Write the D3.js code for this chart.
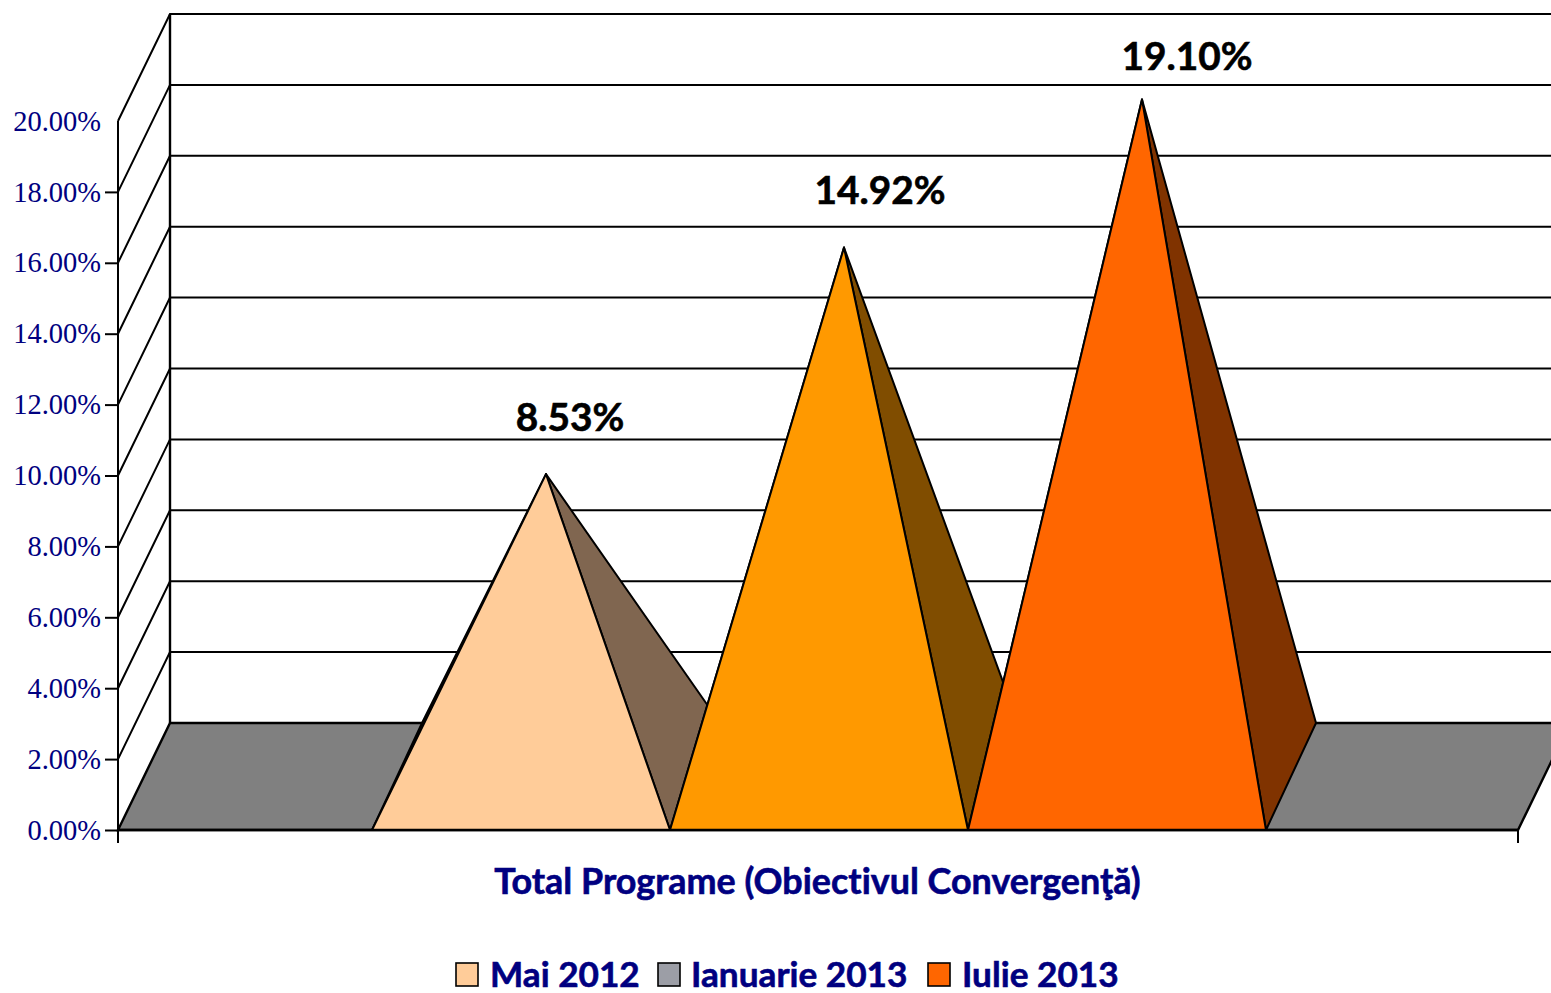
<!DOCTYPE html>
<html><head><meta charset="utf-8">
<script src="https://cdn.jsdelivr.net/npm/d3@7/dist/d3.min.js"></script>
<style>html,body{margin:0;padding:0;background:#fff;overflow:hidden}svg{display:block}
text{font-variant-ligatures:none}</style>
</head><body><svg id="c" width="1551" height="993"></svg>
<script>
const seriesNames = ["Mai 2012", "Ianuarie 2013", "Iulie 2013"];
const seriesValues = [8.53, 14.92, 19.10];
const faceColors = ["#FFCC99", "#FF9900", "#FF6600"];
const sideColors = ["#806650", "#804D00", "#803300"];
const legendColors = ["#FFCC99", "#9C9EA6", "#FF6600"];
const valueLabels = ["8.53%", "14.92%", "19.10%"];
const tickValues = [0, 2, 4, 6, 8, 10, 12, 14, 16, 18, 20];
const categoryLabel = "Total Programe (Obiectivul Convergenţă)";

const navy = "#000080", sans = "Lato, 'Open Sans', sans-serif";
const svg = d3.select("#c");
const y = d3.scaleLinear().domain([0, 20]).range([830, 121]);
const x = d3.scaleBand().domain(seriesNames).range([372, 1266]).padding(0);
const left = 118, right = 1518, wallDx = 52, depthDy = 107, pyrDx = 50;
const line = (pts, sw = 2) => svg.append("polyline").attr("points", pts.join(" "))
  .attr("fill", "none").attr("stroke", "#000").attr("stroke-width", sw);

// back wall and side wall grid
tickValues.forEach(t => {
  if (t > 0) line([[left, y(t)], [left + wallDx, y(t) - depthDy], [1560, y(t) - depthDy]]);
});
// floor
svg.append("polygon")
  .attr("points", [[left, y(0)], [right, y(0)], [right + wallDx, y(0) - depthDy], [left + wallDx, y(0) - depthDy]].join(" "))
  .attr("fill", "#808080").attr("stroke", "#000").attr("stroke-width", 2.4);
line([[left + wallDx, y(0) - depthDy], [left + wallDx, y(20) - depthDy]], 2.4);

// axes
const axis = svg.append("g").attr("transform", `translate(${left},0)`)
  .call(d3.axisLeft(y).tickValues(tickValues).tickSize(13).tickPadding(4).tickFormat(d => d.toFixed(2) + "%"));
axis.select(".domain").remove();
axis.selectAll("line").attr("stroke", "#000").attr("stroke-width", 2);
axis.selectAll(".tick").filter(d => d === 20).select("line").remove();
axis.selectAll("text").attr("fill", navy).attr("font-family", "'Liberation Serif', serif")
  .attr("font-size", 28.5);
line([[left, y(20)], [left, 843]], 2);
line([[right, y(0)], [right, 843]], 2);

// pyramids, drawn back to front
const labelDx = [25, 37, 46], labelDy = [-43, -44, -29];
seriesNames.forEach((s, i) => {
  const x0 = x(s), x1 = x0 + x.bandwidth(), b = y(0), backY = b - depthDy;
  const apex = [(x0 + x1) / 2 + pyrDx / 2, y(seriesValues[i]) - depthDy / 2];
  const g = svg.append("g").attr("stroke", "#000").attr("stroke-width", 2).attr("stroke-linejoin", "round");
  g.append("polygon").attr("points", [[x0, b], [x0 + pyrDx, backY], apex].join(" ")).attr("fill", sideColors[i]);
  g.append("polygon").attr("points", [[x1, b], [x1 + pyrDx, backY], apex].join(" ")).attr("fill", sideColors[i]);
  g.append("polygon").attr("points", [[x0, b], [x1, b], apex].join(" ")).attr("fill", faceColors[i]);
  svg.append("text").attr("x", apex[0] + labelDx[i] - 1).attr("y", apex[1] + labelDy[i])
    .attr("text-anchor", "middle").attr("font-family", sans).attr("font-weight", 700)
    .attr("font-size", 38.8).attr("fill", "#000").attr("stroke", "#000").attr("stroke-width", 0.6).text(valueLabels[i]);
});
line([[left, y(0)], [right, y(0)]], 2.6);

// category label
svg.append("text").attr("x", 817.5).attr("y", 894).attr("text-anchor", "middle")
  .attr("font-family", sans).attr("font-weight", 700).attr("font-size", 35.9).attr("fill", navy)
  .attr("stroke", navy).attr("stroke-width", 0.6).text(categoryLabel);

// legend
const legendSwatchX = [456, 658, 928], legendTextX = [490, 691, 962];
seriesNames.forEach((s, i) => {
  svg.append("rect").attr("x", legendSwatchX[i]).attr("y", 963).attr("width", 22).attr("height", 23)
    .attr("fill", legendColors[i]).attr("stroke", "#000").attr("stroke-width", 1.6);
  svg.append("text").attr("x", legendTextX[i]).attr("y", 987).attr("font-family", sans)
    .attr("font-weight", 700).attr("font-size", 35.2).attr("fill", navy)
    .attr("stroke", navy).attr("stroke-width", 0.6).text(s);
});
</script></body></html>
